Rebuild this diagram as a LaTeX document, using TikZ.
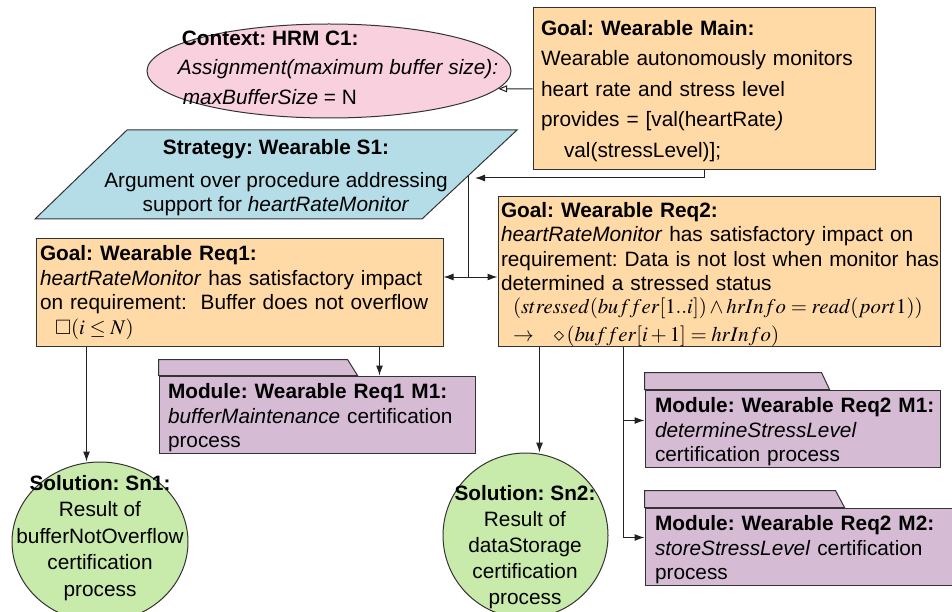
\documentclass[tikz,border=0pt]{standalone}
\usepackage{mathptmx}
\usepackage{amssymb}
\usepackage[no-math]{fontspec}
\setmainfont{Liberation Sans}
\usetikzlibrary{arrows.meta,shapes.geometric}

\definecolor{edge}{HTML}{333333}
\definecolor{wire}{HTML}{222222}
\definecolor{goalfill}{RGB}{255,217,166}
\definecolor{ctxfill}{RGB}{248,208,222}
\definecolor{strfill}{RGB}{181,221,232}
\definecolor{modfill}{RGB}{213,188,212}
\definecolor{solfill}{RGB}{200,234,170}

% taller first line, to lower a text block a little inside its box
\newcommand{\lowerby}[1]{\rule{0pt}{#1}}

\begin{document}
\frenchspacing
\begin{tikzpicture}[x=1pt,y=-1pt,
  shapeline/.style={draw=edge, line width=1pt},
  goal/.style={shapeline, fill=goalfill, rectangle, align=left, inner ysep=0pt,
    font=\fontsize{20.8}{24.5}\selectfont},
  modbody/.style={shapeline, fill=modfill, rectangle, align=left, inner ysep=0pt,
    font=\fontsize{20.8}{24.5}\selectfont},
  txt/.style={inner sep=0pt, font=\fontsize{20.8}{24.5}\selectfont},
  link/.style={draw=wire, line width=1pt},
  arr/.style={link, -{Latex[length=10pt,width=7pt]}},
  ctxarr/.style={link, -{Triangle[open,length=9pt,width=7pt]}}
]
\useasboundingbox (0,0) rectangle (952,612);
\clip (0,0) rectangle (952,612);

% context
\node[shapeline, fill=ctxfill, ellipse, minimum width=364pt, minimum height=94pt, inner sep=0pt] (c1) at (329,71) {};
\node[txt, align=left, font=\fontsize{20.8}{29.5}\selectfont] (c1t) at (338,67.5)
  {\hspace*{4pt}\textbf{Context: HRM C1:}\\\textit{Assignment(maximum buffer size):}\\\hspace*{5pt}\textit{maxBufferSize} = N};

% top goal
\node[goal, text width=326pt, inner xsep=8pt, minimum height=162pt,
  font=\fontsize{20.8}{30.4}\selectfont] (main) at (704,89)
  {\lowerby{19pt}\textbf{Goal: Wearable Main:}\\Wearable autonomously monitors\\heart rate and stress level\\provides = [val(heartRate\textit{)}\\\hspace*{23pt}val(stressLevel)];};

% strategy
\draw[shapeline, fill=strfill] (127,130) -- (517,130) -- (422,219) -- (35,219) -- cycle;
\node[txt, align=center] (s1) at (276,177.5)
  {\textbf{Strategy: Wearable S1:}\\[8.5pt]Argument over procedure addressing\\support for \textit{heartRateMonitor}};
\coordinate (s1in) at (475,178);
\coordinate (s1out) at (468,176);
\coordinate (jn) at (468,277);

% sub-goals
\node[goal, text width=399pt, inner xsep=4pt, minimum height=107pt] (req1) at (239.5,292.5)
  {\textbf{Goal: Wearable Req1:}\\\textit{heartRateMonitor} has satisfactory impact\\\mbox{on requirement:\ \ Buffer does not overflow}\\\hspace*{15pt}$\square(i\leq N)$};

\node[goal, text width=436pt, inner xsep=3pt, minimum height=149pt] (req2) at (719,271.5)
  {\lowerby{21pt}\textbf{Goal: Wearable Req2:}\\\textit{heartRateMonitor} has satisfactory impact on\\\mbox{requirement: Data is not lost when monitor has}\\determined a stressed status\\[-1.5pt]\hspace*{12pt}\mbox{$(stressed(buffer[1..i])\wedge hrInfo = read(port1))$}\\[3.5pt]\hspace*{12pt}\mbox{$\rightarrow$\hspace{20pt}$\diamond\,(buffer[i+1] = hrInfo)$}};

% modules
\node[modbody, text width=298pt, inner xsep=9pt, minimum height=77pt] (m1) at (317,414.5)
  {\lowerby{22pt}\mbox{\textbf{Module: Wearable Req1 M1:}}\\\textit{bufferMaintenance} certification\\process};
\draw[shapeline, fill=modfill] (m1.north west) -- ++(0,-16) -- ++(189,0) -- ++(10,16) -- cycle;

\node[modbody, text width=275pt, inner xsep=10pt, minimum height=77pt] (rm1) at (792.5,428.5)
  {\lowerby{22pt}\mbox{\textbf{Module: Wearable Req2 M1:}}\\\textit{determineStressLevel}\\certification process};
\draw[shapeline, fill=modfill] (rm1.north west) -- ++(0,-17) -- ++(177,0) -- ++(8,17) -- cycle;

\node[modbody, text width=290pt, inner xsep=10pt, minimum height=77pt] (rm2) at (800,546.5)
  {\lowerby{22pt}\mbox{\textbf{Module: Wearable Req2 M2:}}\\\textit{storeStressLevel} certification\\process};
\draw[shapeline, fill=modfill] (rm2.north west) -- ++(0,-17) -- ++(191,0) -- ++(9,17) -- cycle;

% solutions
\node[shapeline, fill=solfill, ellipse, minimum width=176pt, minimum height=160pt, inner sep=0pt] (sn1) at (100,542) {};
\node[txt, align=center, font=\fontsize{20.8}{26.5}\selectfont] (sn1t) at (100,538)
  {\textbf{Solution: Sn1:}\\Result of\\bufferNotOverflow\\certification\\process};

\node[shapeline, fill=solfill, circle, minimum size=165pt, inner sep=0pt] (sn2) at (525.5,535.5) {};
\node[txt, align=center, font=\fontsize{20.8}{26}\selectfont] (sn2t) at (525,547)
  {\textbf{Solution: Sn2:}\\Result of\\dataStorage\\certification\\process};

% connectors
\draw[ctxarr] (main.west) -- (c1.-6);
\draw[arr] (main.south) |- (s1in);
\draw[link] (s1out) -- (jn);
\draw[arr] (jn) -- (jn -| req1.east);
\draw[arr] (jn) -- (jn -| req2.west);

\draw[arr] ([xshift=51pt]req1.south west) coordinate (r1a) -- (r1a |- sn1.north);
\draw[arr] ([xshift=344pt]req1.south west) coordinate (r1b) -- (r1b |- m1.north);

\draw[arr] ([xshift=42pt]req2.south west) coordinate (r2a) -- (r2a |- sn2.north);
\draw[arr] ([xshift=126pt]req2.south west) coordinate (r2b) |- ([yshift=8pt]rm1.west);
\draw[arr] (r2b) |- ([yshift=9pt]rm2.west);
\end{tikzpicture}
\end{document}
